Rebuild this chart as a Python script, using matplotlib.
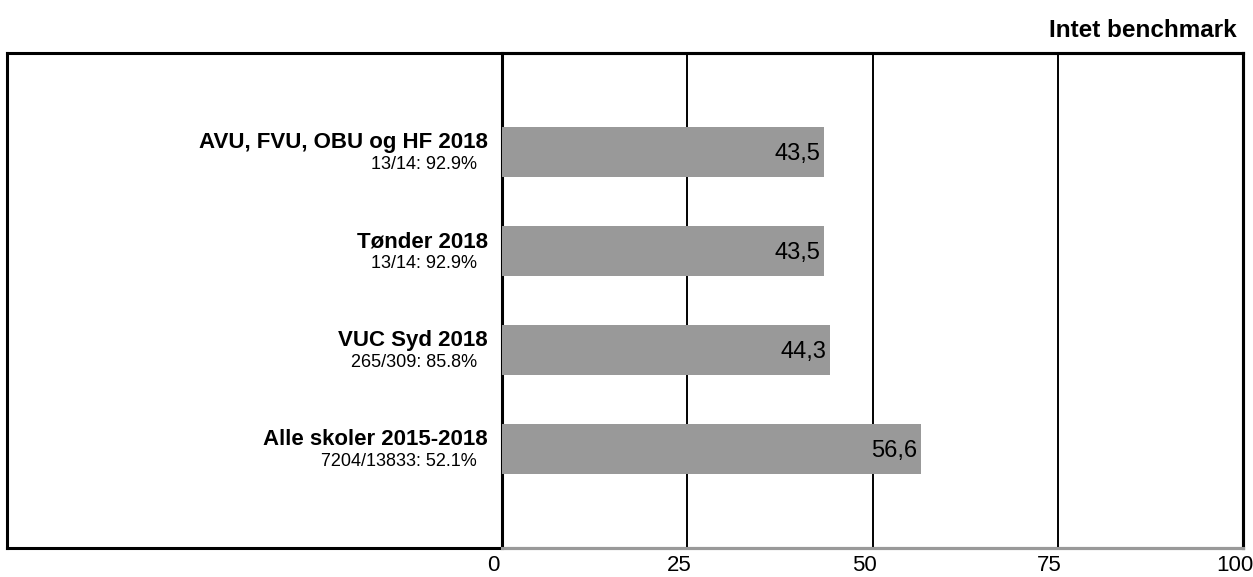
import matplotlib.pyplot as plt
import matplotlib.transforms as mtransforms

plt.rcParams["font.family"] = ["Liberation Sans", "DejaVu Sans"]

# DATA
CATEGORIES = [
    "AVU, FVU, OBU og HF 2018",
    "Tønder 2018",
    "VUC Syd 2018",
    "Alle skoler 2015-2018",
]
SUBLABELS = [
    "13/14: 92.9%",
    "13/14: 92.9%",
    "265/309: 85.8%",
    "7204/13833: 52.1%",
]
VALUES = [43.5, 43.5, 44.3, 56.6]
X_TICKS = [0, 25, 50, 75, 100]
TITLE = "Intet benchmark"

BAR_COLOR = "#999999"
W, H = 1253, 577


def px_box(left, top, right, bottom):
    return [left / W, 1 - bottom / H, (right - left) / W, (bottom - top) / H]


def offset(dx_pt, dy_pt):
    return mtransforms.ScaledTranslation(dx_pt / 72, dy_pt / 72, fig.dpi_scale_trans)


fig = plt.figure(figsize=(W / 100, H / 100), dpi=100)

# outer frame
frame = fig.add_axes(px_box(7, 53, 1243, 548))
frame.set_xticks([])
frame.set_yticks([])
for spine in frame.spines.values():
    spine.set_linewidth(2.2)
    spine.set_color("black")

ax = fig.add_axes(px_box(502, 53, 1243, 548), zorder=2)
ax.patch.set_alpha(0)

positions = list(range(len(CATEGORIES)))
ax.barh(positions, VALUES, height=0.5, color=BAR_COLOR, zorder=3)

ax.set_xlim(0, 100)
ax.set_ylim(len(CATEGORIES), -1)
ax.set_yticks([])
ax.set_xticks(X_TICKS)
ax.set_xticklabels([str(t) for t in X_TICKS], fontsize=16)
ax.tick_params(axis="x", length=0, pad=5)
for lbl in ax.get_xticklabels():
    lbl.set_transform(lbl.get_transform() + offset(-6, 0))

for x in X_TICKS[1:-1]:
    ax.axvline(x, color="black", linewidth=1.4, zorder=1)

ax.spines["left"].set_linewidth(2.2)
ax.spines["top"].set_linewidth(2.2)
ax.spines["right"].set_linewidth(2.2)
ax.spines["bottom"].set_color(BAR_COLOR)
ax.spines["bottom"].set_linewidth(2.2)

ytrans = ax.get_yaxis_transform()
for pos, name, sub, val in zip(positions, CATEGORIES, SUBLABELS, VALUES):
    ax.text(
        0, pos, name,
        transform=ytrans + offset(-10, 2.8),
        ha="right", va="baseline", fontsize=16, fontweight="bold",
    )
    ax.text(
        0, pos, sub,
        transform=ytrans + offset(-18, -12.5),
        ha="right", va="baseline", fontsize=13,
    )
    ax.text(
        val, pos, f"{val:.1f}".replace(".", ","),
        transform=ax.transData + offset(-3, -5.5),
        ha="right", va="baseline", fontsize=17, zorder=4,
    )

fig.text(1237 / W, 1 - 37 / H, TITLE, ha="right", va="baseline",
         fontsize=17.5, fontweight="bold")

fig.savefig("out.png", dpi=100)
